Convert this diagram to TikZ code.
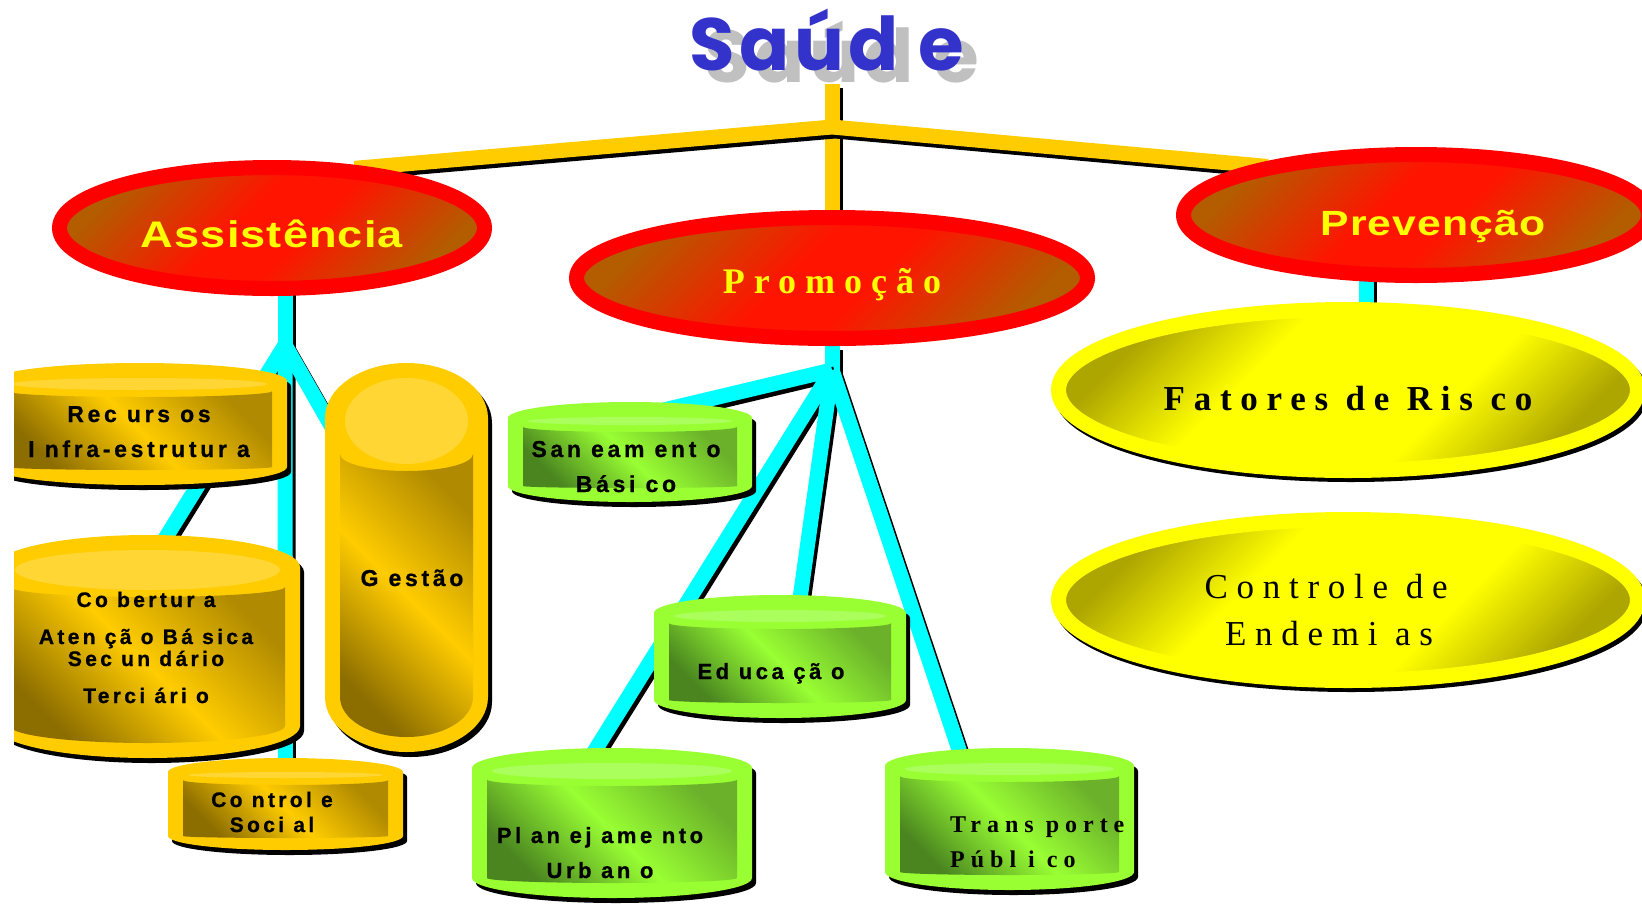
\documentclass[tikz,border=0pt]{standalone}
\usepackage{fontspec}
\setmainfont{Liberation Sans}
\newfontfamily\titlefont[LetterSpace=6]{Poppins}
\newfontfamily\ballsans[FakeStretch=1.22, LetterSpace=3]{Liberation Sans}
\newfontfamily\widesans[LetterSpace=16, FakeBold=0.8]{Liberation Sans}
\newfontfamily\wideserif[LetterSpace=25]{Liberation Serif}
\usetikzlibrary{shapes.geometric,shadows}

\pgfdeclarelayer{links}
\pgfsetlayers{links,main}

\definecolor{titleblue}{HTML}{3333CC}
\definecolor{titlegray}{HTML}{C0C0C0}
\definecolor{trunkyellow}{HTML}{FFCC00}
\definecolor{linkcyan}{HTML}{00FFFF}
\definecolor{ringred}{HTML}{FF0000}
\definecolor{redbrown}{HTML}{B35C00}
\definecolor{redmid}{HTML}{FF1400}
\definecolor{ringyellow}{HTML}{FFFF00}
\definecolor{olive}{HTML}{ADA500}
\definecolor{cylyellow}{HTML}{FFCC00}
\definecolor{cylyellowcap}{HTML}{FFD633}
\definecolor{cylyellowdark}{HTML}{8C6D00}
\definecolor{cylyellowtop}{HTML}{B08A00}
\definecolor{cylgreen}{HTML}{99FF33}
\definecolor{cylgreencap}{HTML}{AAFF5C}
\definecolor{cylgreendark}{HTML}{4A8520}
\definecolor{cylgreentop}{HTML}{6BB22A}

\pgfdeclareverticalshading{redglow}{100bp}{color(0bp)=(redbrown); color(25bp)=(redbrown);
  color(45bp)=(redmid); color(55bp)=(redmid); color(75bp)=(redbrown); color(100bp)=(redbrown)}
\pgfdeclareverticalshading{yellowglow}{100bp}{color(0bp)=(olive); color(25bp)=(olive);
  color(39bp)=(ringyellow); color(61bp)=(ringyellow); color(75bp)=(olive); color(100bp)=(olive)}

% cylinder: name, left, right, top, bottom, cap radius, colour
\newcommand{\cyl}[7]{%
  \pgfmathsetmacro\cylmid{(#2+#3)/2}%
  \pgfmathsetmacro\cylrx{(#3-#2)/2}%
  \pgfmathsetmacro\cylirx{\cylrx-15}%
  \pgfmathsetmacro\cylcrx{\cylrx-20}%
  \pgfmathsetmacro\cylly{#4+#6+3}%
  \pgfmathsetmacro\cyllry{max(#6-12,3)}%
  \pgfmathsetmacro\cyltop{\cylly+0.7*\cyllry+3}%
  \pgfmathsetmacro\cyltry{0.3*\cyllry+4}%
  \pgfmathsetmacro\cylbot{#5-#6}%
  \pgfmathsetmacro\cylbry{max(#6-15,2)}%
  \fill[black, shift={(4,5)}] (#2,#4+#6) arc[start angle=180, end angle=360, x radius=\cylrx, y radius=#6]
    -- (#3,#5-#6) arc[start angle=0, end angle=180, x radius=\cylrx, y radius=#6] -- cycle;
  \fill[#7] (#2,#4+#6) arc[start angle=180, end angle=360, x radius=\cylrx, y radius=#6]
    -- (#3,#5-#6) arc[start angle=0, end angle=180, x radius=\cylrx, y radius=#6] -- cycle;
  \shade[top color=#7top, bottom color=#7dark, middle color=#7, shading angle=-45]
    (#2+15,\cyltop) -- (#2+15,\cylbot) arc[start angle=180, end angle=0, x radius=\cylirx, y radius=\cylbry]
    -- (#3-15,\cyltop) arc[start angle=0, end angle=180, x radius=\cylirx, y radius=\cyltry] -- cycle;
  \fill[#7cap] (\cylmid,\cylly) ellipse[x radius=\cylcrx, y radius=\cyllry];
  \coordinate (#1-top) at (\cylmid,#4+#6);
  \coordinate (#1-mid) at (\cylmid,{(#4+#5)/2});
}

\begin{document}
\begin{tikzpicture}[x=1pt, y=-1pt,
  redball/.style={ellipse, draw=ringred, line width=15pt, shading=redglow, shading angle=45,
    minimum height=121pt, inner sep=0pt, text=ringyellow, text depth=0pt},
  yellowball/.style={ellipse, draw=ringyellow, line width=15pt, shading=yellowglow, shading angle=45,
    minimum width=579pt, minimum height=161pt, inner sep=0pt,
    general shadow={draw=black, fill=black, shadow xshift=3pt, shadow yshift=-4pt}},
  cyltext/.style={anchor=base, align=center, inner sep=0pt},
  titletext/.style={anchor=base, inner sep=0pt, font=\titlefont\bfseries\fontsize{74}{80}\selectfont},
  trunk/.style={draw=trunkyellow, line width=15pt},
  link/.style={draw=linkcyan, line width=15pt},
  linkshadow/.style={draw=black, line width=15pt, transform canvas={shift={(3pt,-4pt)}}}]
\useasboundingbox (0,0) rectangle (1642,903);

\begin{scope}
\clip (14,0) rectangle (1642,903);
% title
\node[titletext, text=titlegray] (saudeShadow) at (842,82) {Saúd e};
\node[titletext, text=titleblue] (saude) at (827,70) {Saúd e};

% the three areas
\node[redball, minimum width=425pt, text height=38pt,
  font=\ballsans\bfseries\fontsize{37}{40}\selectfont] (assist) at (272,228) {Assistência};
\node[redball, minimum width=511pt, text height=30pt,
  font=\wideserif\bfseries\fontsize{36}{40}\selectfont] (promo) at (832,278) {Promoção};
\node[redball, minimum width=465pt, text height=40pt,
  font=\ballsans\bfseries\fontsize{35}{40}\selectfont] (preven) at (1416,215) {\hspace*{34pt}Prevenção};

% prevention
\node[yellowball, text height=40pt, text depth=0pt,
  font=\wideserif\bfseries\fontsize{35}{40}\selectfont] (fator) at (1348,390) {Fatores de Ris co};
\node[yellowball, align=center, text height=90pt, text depth=0pt,
  font=\wideserif\fontsize{35}{47}\selectfont] (ctrl) at (1348,600) {Controle de\hspace*{44pt}\\Endemi as\hspace*{38pt}};

% assistance
\cyl{rec}{-8}{287}{363}{485}{18}{cylyellow}
\cyl{cob}{-5}{300}{535}{758}{32}{cylyellow}
\cyl{gest}{325}{488}{363}{752}{55}{cylyellow}
\cyl{csoc}{168}{403}{758}{850}{14}{cylyellow}
\node[cyltext, font=\widesans\bfseries\fontsize{23}{35}\selectfont] (rec) at (139,457) {Rec urs os\\I nfra-estrutur a};
\node[cyltext, font=\widesans\bfseries\fontsize{21}{37}\selectfont] (cob) at (146,703) {Co bertur a\\Aten çã o Bá sica\\[-15pt]Sec un dário\\Terci ári o};
\node[cyltext, font=\widesans\bfseries\fontsize{23}{35}\selectfont] (gest) at (412,586) {G estão};
\node[cyltext, font=\widesans\bfseries\fontsize{21}{25}\selectfont] (csoc) at (272,832) {Co ntrol e\\Soci al};

% promotion
\cyl{sane}{508}{752}{402}{502}{16}{cylgreen}
\cyl{edu}{654}{906}{595}{718}{18}{cylgreen}
\cyl{plan}{472}{752}{748}{898}{20}{cylgreen}
\cyl{trans}{885}{1134}{748}{890}{18}{cylgreen}
\node[cyltext, font=\widesans\bfseries\fontsize{23}{35}\selectfont] (sane) at (626,492) {San eam ent o\\Bási co};
\node[cyltext, font=\widesans\bfseries\fontsize{22}{35}\selectfont] (edu) at (771,679) {Ed uca çã o};
\node[cyltext, font=\widesans\bfseries\fontsize{22}{35}\selectfont] (plan) at (600,878) {Pl an ej ame nto\\Urb an o};
\node[cyltext, anchor=base west, align=left, font=\wideserif\bfseries\fontsize{24}{35}\selectfont] (trans) at (950,867) {Trans porte\\Públ i co};
\end{scope}

\begin{pgfonlayer}{links}
\coordinate (tTop) at (832,84);
\coordinate (tJ) at (832,127);
\coordinate (aJ) at (285,345);
\coordinate (pJ) at (832,370);
% yellow trunk
\draw[linkshadow] (tTop) -- (promo);
\draw[trunk] (tTop) -- (promo);
\draw[linkshadow, shorten <=-15pt, shorten >=-15pt] (assist.32) -- (tJ) -- (preven.163);
\draw[trunk, shorten <=-15pt, shorten >=-15pt] (assist.32) -- (tJ) -- (preven.163);
% cyan links
\draw[linkshadow] ([xshift=13pt]assist.center) -- (aJ);
\draw[link] ([xshift=13pt]assist.center) -- (aJ);
\draw[linkshadow] (aJ) -- (cob-top);
\draw[link] (aJ) -- (cob-top);
\draw[linkshadow] (aJ) -- (csoc-top);
\draw[link] (aJ) -- (csoc-top);
\draw[linkshadow] (aJ) -- (gest-mid);
\draw[link] (aJ) -- (gest-mid);
\draw[linkshadow] (promo) -- (pJ);
\draw[link] (promo) -- (pJ);
\draw[linkshadow] (pJ) -- (sane-top);
\draw[link] (pJ) -- (sane-top);
\draw[linkshadow] (pJ) -- ([xshift=-28pt]plan-top);
\draw[link] (pJ) -- ([xshift=-28pt]plan-top);
\draw[linkshadow] (pJ) -- ([xshift=18pt]edu-top);
\draw[link] (pJ) -- ([xshift=18pt]edu-top);
\draw[linkshadow] (pJ) -- ([xshift=-45pt]trans-top);
\draw[link] (pJ) -- ([xshift=-45pt]trans-top);
\draw[linkshadow] ([xshift=-50pt]preven.center) -- ([xshift=18pt]fator.center);
\draw[link] ([xshift=-50pt]preven.center) -- ([xshift=18pt]fator.center);
\end{pgfonlayer}
\end{tikzpicture}
\end{document}
